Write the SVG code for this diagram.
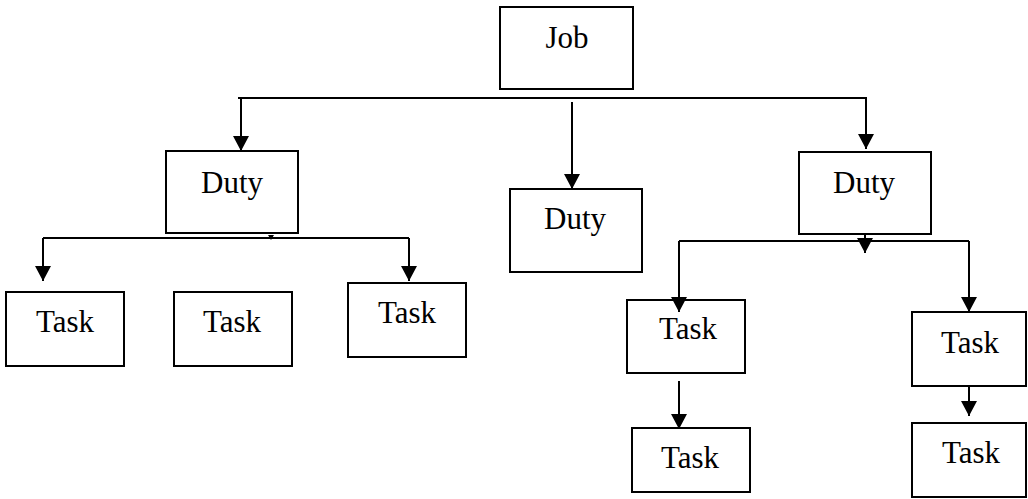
<svg xmlns="http://www.w3.org/2000/svg" width="1028" height="499" viewBox="0 0 1028 499">
<style>
.box{fill:#fff;stroke:#000;stroke-width:2}
.lbl{font-family:"Liberation Serif","Times New Roman",serif;font-size:31px;fill:#000;text-anchor:middle}
.ln{stroke:#000;stroke-width:2;fill:none}
.arr{marker-end:url(#ah)}
</style>
<defs>
<marker id="ah" markerUnits="userSpaceOnUse" markerWidth="15" markerHeight="16" viewBox="0 -8 15 16" refX="15" refY="0" orient="auto">
<path d="M0,-8 L15,0 L0,8 z" fill="#000"/>
</marker>
</defs>
<rect width="1028" height="499" fill="#fff"/>
<g id="n-job"><rect class="box" x="500" y="7" width="133" height="82"/><text class="lbl" x="567" y="48">Job</text></g>
<g id="n-duty1"><rect class="box" x="166" y="151" width="132" height="82"/><text class="lbl" x="232" y="193">Duty</text></g>
<g id="n-duty2"><rect class="box" x="510" y="189" width="132" height="83"/><text class="lbl" x="575" y="229">Duty</text></g>
<g id="n-duty3"><rect class="box" x="799" y="152" width="132" height="82"/><text class="lbl" x="864" y="193">Duty</text></g>
<g id="n-task1"><rect class="box" x="6" y="292" width="118" height="74"/><text class="lbl" x="65" y="332">Task</text></g>
<g id="n-task2"><rect class="box" x="174" y="292" width="118" height="74"/><text class="lbl" x="232" y="332">Task</text></g>
<g id="n-task3"><rect class="box" x="348" y="283" width="118" height="74"/><text class="lbl" x="407" y="323">Task</text></g>
<g id="n-task4"><rect class="box" x="627" y="300" width="118" height="73"/><text class="lbl" x="688" y="339">Task</text></g>
<g id="n-task5"><rect class="box" x="632" y="428" width="118" height="64"/><text class="lbl" x="690" y="468">Task</text></g>
<g id="n-task6"><rect class="box" x="912" y="312" width="114" height="74"/><text class="lbl" x="970" y="353">Task</text></g>
<g id="n-task7"><rect class="box" x="912" y="423" width="114" height="74"/><text class="lbl" x="971" y="463">Task</text></g>
<g id="connectors">
<line class="ln" x1="238" y1="98" x2="867" y2="98"/>
<line class="ln arr" x1="241" y1="98" x2="241" y2="151"/>
<line class="ln arr" x1="572" y1="102" x2="572" y2="189"/>
<line class="ln arr" x1="866" y1="98" x2="866" y2="149"/>
<polygon points="268,235 274,235 271,240" fill="#000"/>
<line class="ln" x1="43" y1="238" x2="409" y2="238"/>
<line class="ln arr" x1="43" y1="238" x2="43" y2="281"/>
<line class="ln arr" x1="409" y1="238" x2="409" y2="281"/>
<line class="ln arr" x1="865" y1="234" x2="865" y2="253"/>
<line class="ln" x1="679" y1="241" x2="969" y2="241"/>
<line class="ln arr" x1="679" y1="241" x2="679" y2="312"/>
<line class="ln arr" x1="969" y1="241" x2="969" y2="312"/>
<line class="ln arr" x1="679" y1="381" x2="679" y2="429"/>
<line class="ln arr" x1="969" y1="386" x2="969" y2="416"/>
</g>
</svg>
